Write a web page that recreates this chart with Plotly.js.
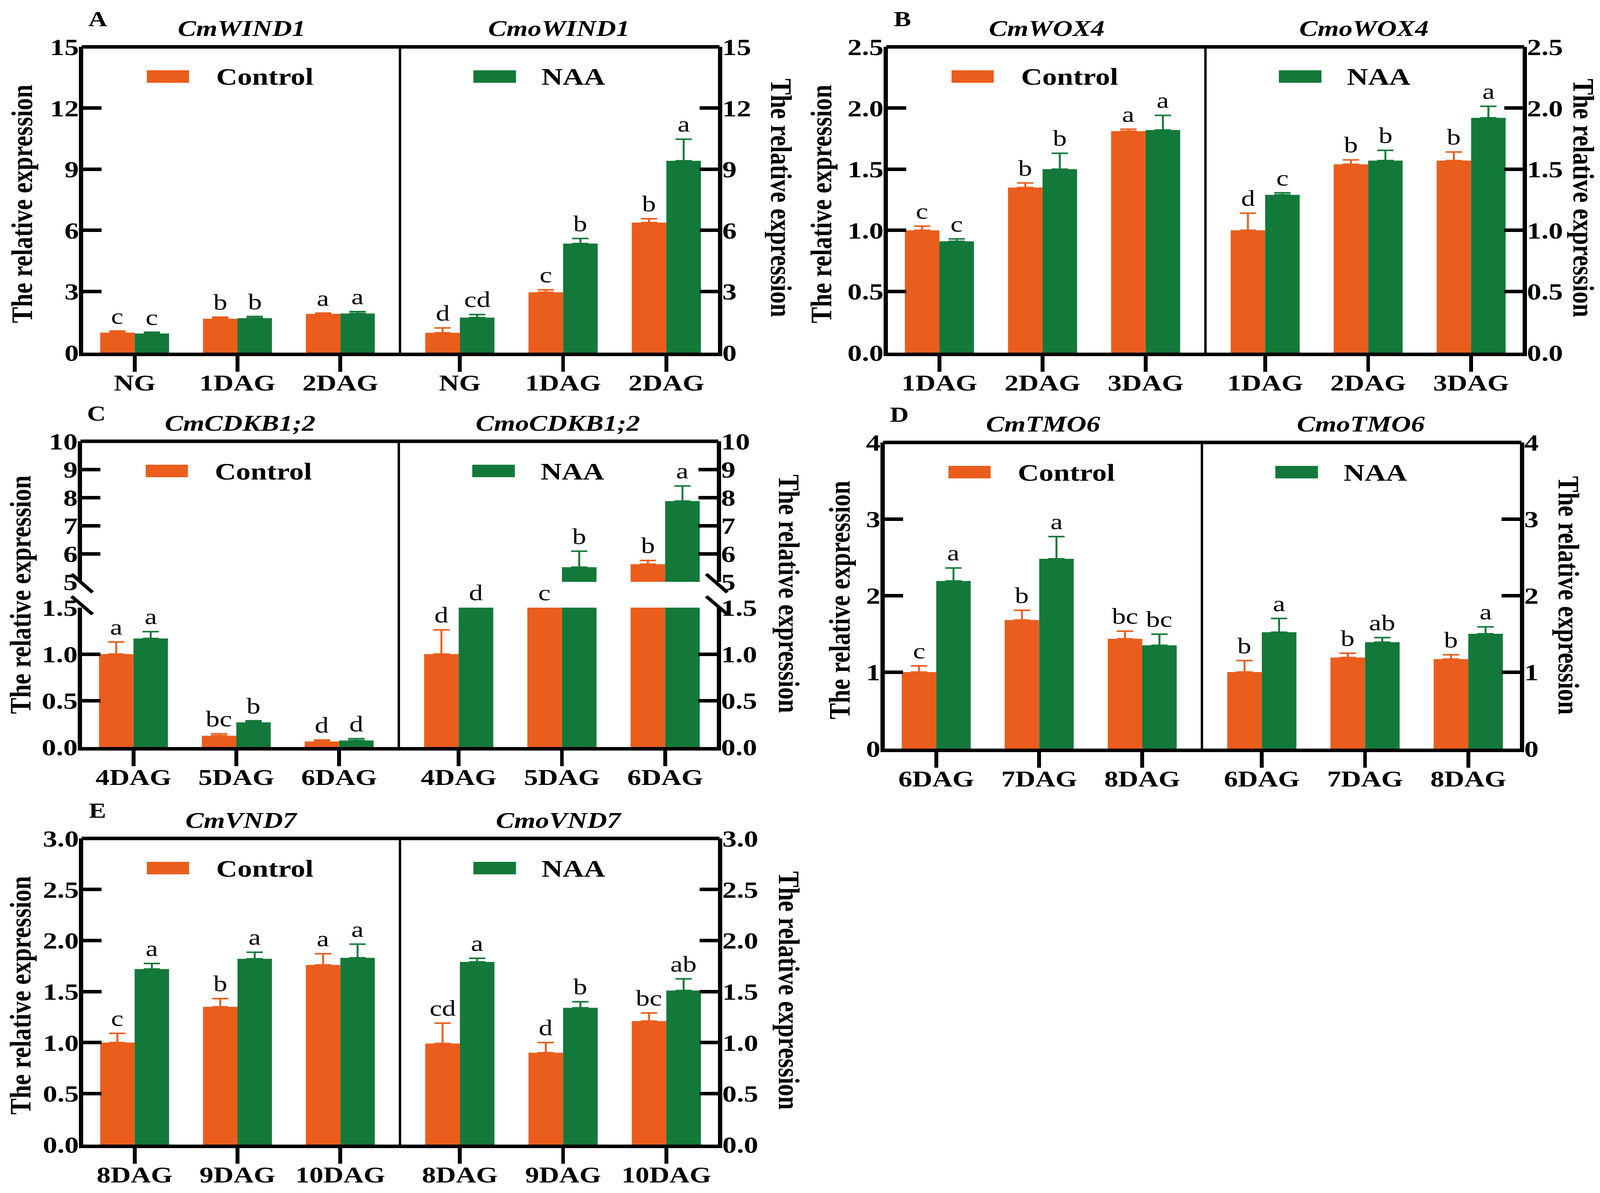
<!DOCTYPE html>
<html>
<head>
<meta charset="utf-8">
<script src="https://cdn.plot.ly/plotly-3.0.1.min.js"></script>
<style>
html,body{margin:0;padding:0;background:#ffffff;overflow:hidden;}
#wrap{transform:scaleX(1.2301);transform-origin:0 0;width:3346px;height:3055px;}
</style>
</head>
<body>
<div id="wrap"><div id="chart"></div></div>
<script>
// ---------------- DATA ----------------
const catsA = ['NG', '1DAG', '2DAG'];
const catsB = ['1DAG', '2DAG', '3DAG'];
const catsC = ['4DAG', '5DAG', '6DAG'];
const catsD = ['6DAG', '7DAG', '8DAG'];
const catsE = ['8DAG', '9DAG', '10DAG'];

// A: CmWIND1 / CmoWIND1
const cmWIND1Ctrl = [0.98, 1.66, 1.90];
const cmWIND1CtrlErr = [0.08, 0.08, 0.04];
const cmWIND1Naa = [0.94, 1.69, 1.92];
const cmWIND1NaaErr = [0.06, 0.08, 0.09];
const cmWIND1CtrlSig = ['c', 'b', 'a'];
const cmWIND1NaaSig = ['c', 'b', 'a'];
const cmoWIND1Ctrl = [0.97, 2.96, 6.38];
const cmoWIND1CtrlErr = [0.24, 0.12, 0.19];
const cmoWIND1Naa = [1.72, 5.35, 9.41];
const cmoWIND1NaaErr = [0.15, 0.25, 1.06];
const cmoWIND1CtrlSig = ['d', 'c', 'b'];
const cmoWIND1NaaSig = ['cd', 'b', 'a'];

// B: CmWOX4 / CmoWOX4
const cmWOX4Ctrl = [1.00, 1.35, 1.81];
const cmWOX4CtrlErr = [0.034, 0.037, 0.017];
const cmWOX4Naa = [0.91, 1.50, 1.82];
const cmWOX4NaaErr = [0.02, 0.13, 0.12];
const cmWOX4CtrlSig = ['c', 'b', 'a'];
const cmWOX4NaaSig = ['c', 'b', 'a'];
const cmoWOX4Ctrl = [1.00, 1.54, 1.57];
const cmoWOX4CtrlErr = [0.14, 0.036, 0.07];
const cmoWOX4Naa = [1.29, 1.57, 1.92];
const cmoWOX4NaaErr = [0.017, 0.084, 0.094];
const cmoWOX4CtrlSig = ['d', 'b', 'b'];
const cmoWOX4NaaSig = ['c', 'b', 'a'];

// C: CmCDKB1;2 / CmoCDKB1;2 (broken axis)
const cmCDKBCtrl = [1.00, 0.122, 0.06];
const cmCDKBCtrlErr = [0.13, 0.02, 0.016];
const cmCDKBNaa = [1.168, 0.266, 0.07];
const cmCDKBNaaErr = [0.074, 0.017, 0.02];
const cmCDKBCtrlSig = ['a', 'bc', 'd'];
const cmCDKBNaaSig = ['a', 'b', 'd'];
const cmoCDKBCtrl = [1.00, 3.0, 5.63];
const cmoCDKBCtrlErr = [0.26, 0.3, 0.13];
const cmoCDKBNaa = [1.8, 5.52, 7.87];
const cmoCDKBNaaErr = [0.2, 0.57, 0.54];
const cmoCDKBCtrlSig = ['d', 'c', 'b'];
const cmoCDKBNaaSig = ['d', 'b', 'a'];

// D: CmTMO6 / CmoTMO6
const cmTMO6Ctrl = [1.00, 1.68, 1.435];
const cmTMO6CtrlErr = [0.08, 0.128, 0.10];
const cmTMO6Naa = [2.19, 2.48, 1.35];
const cmTMO6NaaErr = [0.17, 0.29, 0.145];
const cmTMO6CtrlSig = ['c', 'b', 'bc'];
const cmTMO6NaaSig = ['a', 'a', 'bc'];
const cmoTMO6Ctrl = [1.00, 1.19, 1.17];
const cmoTMO6CtrlErr = [0.15, 0.056, 0.056];
const cmoTMO6Naa = [1.52, 1.39, 1.50];
const cmoTMO6NaaErr = [0.18, 0.06, 0.09];
const cmoTMO6CtrlSig = ['b', 'b', 'b'];
const cmoTMO6NaaSig = ['a', 'ab', 'a'];

// E: CmVND7 / CmoVND7
const cmVND7Ctrl = [1.00, 1.35, 1.76];
const cmVND7CtrlErr = [0.09, 0.08, 0.11];
const cmVND7Naa = [1.72, 1.82, 1.83];
const cmVND7NaaErr = [0.055, 0.065, 0.134];
const cmVND7CtrlSig = ['c', 'b', 'a'];
const cmVND7NaaSig = ['a', 'a', 'a'];
const cmoVND7Ctrl = [0.99, 0.90, 1.21];
const cmoVND7CtrlErr = [0.20, 0.10, 0.08];
const cmoVND7Naa = [1.79, 1.34, 1.51];
const cmoVND7NaaErr = [0.035, 0.06, 0.114];
const cmoVND7CtrlSig = ['cd', 'd', 'bc'];
const cmoVND7NaaSig = ['a', 'b', 'ab'];

const seriesNames = ['Control', 'NAA'];
const yTitle = 'The relative expression';

// ---------------- STYLE / LAYOUT ----------------
const ORANGE = '#EA5D1C';
const GREEN = '#13793A';
const FONT = '"Liberation Serif", "Times New Roman", Times, serif';
const SW = 4116, SH = 3055;
const fx = px => px / SW;
const fy = py => 1 - py / SH;
const BARW = 0.335;

const panels = [
  { letter: 'A', cats: catsA, geo: {L: 213, D: 1024, R: 1838, T: 120, B: 903},
    range: [0, 15], dtick: 3, fmt: 'd', titles: ['CmWIND1', 'CmoWIND1'],
    ytl: [56, 522], ytr: [2000, 507],
    sub: [
      {c: cmWIND1Ctrl, ce: cmWIND1CtrlErr, n: cmWIND1Naa, ne: cmWIND1NaaErr, cs: cmWIND1CtrlSig, ns: cmWIND1NaaSig},
      {c: cmoWIND1Ctrl, ce: cmoWIND1CtrlErr, n: cmoWIND1Naa, ne: cmoWIND1NaaErr, cs: cmoWIND1CtrlSig, ns: cmoWIND1NaaSig}
    ]},
  { letter: 'B', cats: catsB, geo: {L: 2273, D: 3086, R: 3898, T: 120, B: 903},
    range: [0, 2.5], dtick: 0.5, fmt: '.1f', titles: ['CmWOX4', 'CmoWOX4'],
    ytl: [2102, 522], ytr: [4054, 507],
    sub: [
      {c: cmWOX4Ctrl, ce: cmWOX4CtrlErr, n: cmWOX4Naa, ne: cmWOX4NaaErr, cs: cmWOX4CtrlSig, ns: cmWOX4NaaSig},
      {c: cmoWOX4Ctrl, ce: cmoWOX4CtrlErr, n: cmoWOX4Naa, ne: cmoWOX4NaaErr, cs: cmoWOX4CtrlSig, ns: cmoWOX4NaaSig}
    ]},
  { letter: 'C', cats: catsC, geo: {L: 210, D: 1021, R: 1835, T: 1130, B: 1913, Bu: 1490, Tl: 1556},
    range: [0, 1.5], dtick: 0.5, fmt: '.1f', urange: [5, 10], udtick: 1, ufmt: 'd',
    titles: ['CmCDKB1;2', 'CmoCDKB1;2'],
    ytl: [52, 1523], ytr: [2020, 1520],
    sub: [
      {c: cmCDKBCtrl, ce: cmCDKBCtrlErr, n: cmCDKBNaa, ne: cmCDKBNaaErr, cs: cmCDKBCtrlSig, ns: cmCDKBNaaSig},
      {c: cmoCDKBCtrl, ce: cmoCDKBCtrlErr, n: cmoCDKBNaa, ne: cmoCDKBNaaErr, cs: cmoCDKBCtrlSig, ns: cmoCDKBNaaSig}
    ]},
  { letter: 'D', cats: catsD, geo: {L: 2265, D: 3077, R: 3891, T: 1133, B: 1917},
    range: [0, 4], dtick: 1, fmt: 'd', titles: ['CmTMO6', 'CmoTMO6'],
    ytl: [2149, 1536], ytr: [4016, 1525],
    sub: [
      {c: cmTMO6Ctrl, ce: cmTMO6CtrlErr, n: cmTMO6Naa, ne: cmTMO6NaaErr, cs: cmTMO6CtrlSig, ns: cmTMO6NaaSig},
      {c: cmoTMO6Ctrl, ce: cmoTMO6CtrlErr, n: cmoTMO6Naa, ne: cmoTMO6NaaErr, cs: cmoTMO6CtrlSig, ns: cmoTMO6NaaSig}
    ]},
  { letter: 'E', cats: catsE, geo: {L: 213, D: 1024, R: 1838, T: 2147, B: 2931},
    range: [0, 3], dtick: 0.5, fmt: '.1f', titles: ['CmVND7', 'CmoVND7'],
    ytl: [52, 2549], ytr: [2020, 2536],
    sub: [
      {c: cmVND7Ctrl, ce: cmVND7CtrlErr, n: cmVND7Naa, ne: cmVND7NaaErr, cs: cmVND7CtrlSig, ns: cmVND7NaaSig},
      {c: cmoVND7Ctrl, ce: cmoVND7CtrlErr, n: cmoVND7Naa, ne: cmoVND7NaaErr, cs: cmoVND7CtrlSig, ns: cmoVND7NaaSig}
    ]}
];

const axKey = (l, n) => l + 'axis' + (n === 1 ? '' : n);
const axRef = (l, n) => l + (n === 1 ? '' : n);

const traces = [];
const layout = {
  width: 3346, height: 3055,
  margin: {l: 0, r: 0, t: 0, b: 0, pad: 0, autoexpand: false},
  paper_bgcolor: '#ffffff', plot_bgcolor: 'rgba(0,0,0,0)',
  showlegend: false,
  font: {family: FONT, color: '#000'},
  shapes: [], annotations: []
};

const lineBlack = (x0, y0, x1, y1, w) => ({
  type: 'line', xref: 'paper', yref: 'paper',
  x0: fx(x0), y0: fy(y0), x1: fx(x1), y1: fy(y1),
  line: {color: '#000', width: w}
});

function yAxisDef(domain, anchor, side, range, dtick, fmt) {
  return {
    domain: domain, anchor: anchor, side: side, range: range,
    tick0: 0, dtick: dtick, tickformat: fmt,
    showline: true, linewidth: 9, linecolor: '#000',
    ticks: 'inside', ticklen: 38, tickwidth: 9, tickcolor: '#000',
    ticklabelstandoff: -12,
    tickfont: {family: FONT, size: 60, color: '#000', weight: 'bold'},
    showgrid: false, zeroline: false, fixedrange: true
  };
}

function addBars(cats, vals, errs, color, offset, xr, yr) {
  traces.push({
    type: 'bar', x: cats, y: vals, xaxis: xr, yaxis: yr,
    width: BARW, offset: offset,
    marker: {color: color, line: {width: 0}},
    error_y: {type: 'data', array: errs, arrayminus: errs.map(() => 0), symmetric: false,
              color: color, thickness: 4, width: 17, visible: true},
    hoverinfo: 'skip', showlegend: false
  });
}

function addSig(labels, vals, errs, xShift, xr, yLow, yUp, p) {
  labels.forEach((lab, i) => {
    const v = vals[i], top = vals[i] + errs[i];
    let yref = yLow, y = top;
    if (p.urange) {
      if (v > p.range[1] && v < p.urange[0]) { y = p.range[1]; }
      else if (v >= p.urange[0]) { yref = yUp; }
    }
    layout.annotations.push({
      xref: xr, yref: yref, x: i + xShift, y: y,
      text: lab, showarrow: false, xanchor: 'center', yanchor: 'bottom', yshift: 4,
      font: {family: FONT, size: 58, color: '#000'}
    });
  });
}

panels.forEach((p, pi) => {
  const g = p.geo;
  [0, 1].forEach(s => {
    const n = 2 * pi + s + 1;
    const xr = axRef('x', n), yr = axRef('y', n);
    const xdom = s === 0 ? [fx(g.L), fx(g.D)] : [fx(g.D), fx(g.R)];
    layout[axKey('x', n)] = {
      domain: xdom, anchor: yr, type: 'category',
      categoryorder: 'array', categoryarray: p.cats,
      range: s === 0 ? [-0.5, 2.58] : [-0.58, 2.5],
      showline: true, linewidth: 9, linecolor: '#000',
      ticks: 'outside', ticklen: 40, tickwidth: 8, tickcolor: '#000',
      ticklabelstandoff: -22,
      tickfont: {family: FONT, size: 58, color: '#000', weight: 'bold'},
      showgrid: false, zeroline: false, fixedrange: true
    };
    const side = s === 0 ? 'left' : 'right';
    let yUp = null;
    if (p.urange) {
      layout[axKey('y', n)] = yAxisDef([fy(g.B), fy(g.Tl)], xr, side, p.range, p.dtick, p.fmt);
      const nu = 11 + s;
      yUp = axRef('y', nu);
      layout[axKey('y', nu)] = yAxisDef([fy(g.Bu), fy(g.T)], xr, side, p.urange, p.udtick, p.ufmt);
    } else {
      layout[axKey('y', n)] = yAxisDef([fy(g.B), fy(g.T)], xr, side, p.range, p.dtick, p.fmt);
    }
    const d = p.sub[s];
    addBars(p.cats, d.c, d.ce, ORANGE, -BARW, xr, yr);
    addBars(p.cats, d.n, d.ne, GREEN, 0, xr, yr);
    if (yUp) {
      addBars(p.cats, d.c, d.ce, ORANGE, -BARW, xr, yUp);
      addBars(p.cats, d.n, d.ne, GREEN, 0, xr, yUp);
    }
    addSig(d.cs, d.c, d.ce, -BARW / 2, xr, yr, yUp, p);
    addSig(d.ns, d.n, d.ne, BARW / 2, xr, yr, yUp, p);

    // subplot title (gene name)
    layout.annotations.push({
      xref: 'paper', yref: 'paper', x: (xdom[0] + xdom[1]) / 2, y: fy(g.T - 47),
      text: p.titles[s], showarrow: false, xanchor: 'center', yanchor: 'middle',
      font: {family: FONT, size: 57, color: '#000', weight: 'bold', style: 'italic'}
    });
  });

  // frame: top line and divider
  layout.shapes.push(lineBlack(g.L - 4, g.T, g.R + 4, g.T, 9));
  layout.shapes.push(lineBlack(g.D, g.T, g.D, g.B, 5));

  // broken-axis marks
  if (p.urange) {
    [g.L, g.R].forEach(xa => {
      layout.shapes.push(lineBlack(xa - 27, g.Bu - 20, xa + 27, g.Bu + 27, 8));
      layout.shapes.push(lineBlack(xa - 27, g.Tl - 29, xa + 27, g.Tl + 17, 8));
    });
  }

  // legend swatches and texts
  layout.shapes.push({type: 'rect', xref: 'paper', yref: 'paper',
    x0: fx(g.L + 163), x1: fx(g.L + 271), y0: fy(g.T + 60), y1: fy(g.T + 92),
    fillcolor: ORANGE, line: {width: 0}});
  layout.shapes.push({type: 'rect', xref: 'paper', yref: 'paper',
    x0: fx(g.D + 188), x1: fx(g.D + 297), y0: fy(g.T + 60), y1: fy(g.T + 92),
    fillcolor: GREEN, line: {width: 0}});
  layout.annotations.push({xref: 'paper', yref: 'paper', x: fx(g.L + 338), y: fy(g.T + 77),
    text: seriesNames[0], showarrow: false, xanchor: 'left', yanchor: 'middle',
    font: {family: FONT, size: 61, color: '#000', weight: 'bold'}});
  layout.annotations.push({xref: 'paper', yref: 'paper', x: fx(g.D + 360), y: fy(g.T + 77),
    text: seriesNames[1], showarrow: false, xanchor: 'left', yanchor: 'middle',
    font: {family: FONT, size: 61, color: '#000', weight: 'bold'}});

  // panel letter
  layout.annotations.push({xref: 'paper', yref: 'paper', x: fx(g.L + 37), y: fy(g.T - 71),
    text: p.letter, showarrow: false, xanchor: 'center', yanchor: 'middle',
    font: {family: FONT, size: 54, color: '#000', weight: 'bold'}});

  // y titles
  layout.annotations.push({xref: 'paper', yref: 'paper', x: fx(p.ytl[0]), y: fy(p.ytl[1]),
    text: yTitle, textangle: -90, showarrow: false, xanchor: 'center', yanchor: 'middle',
    font: {family: FONT, size: 62, color: '#000', weight: 'bold'}});
  layout.annotations.push({xref: 'paper', yref: 'paper', x: fx(p.ytr[0]), y: fy(p.ytr[1]),
    text: yTitle, textangle: 90, showarrow: false, xanchor: 'center', yanchor: 'middle',
    font: {family: FONT, size: 62, color: '#000', weight: 'bold'}});
});

Plotly.newPlot('chart', traces, layout, {displayModeBar: false, staticPlot: true});
</script>
</body>
</html>
